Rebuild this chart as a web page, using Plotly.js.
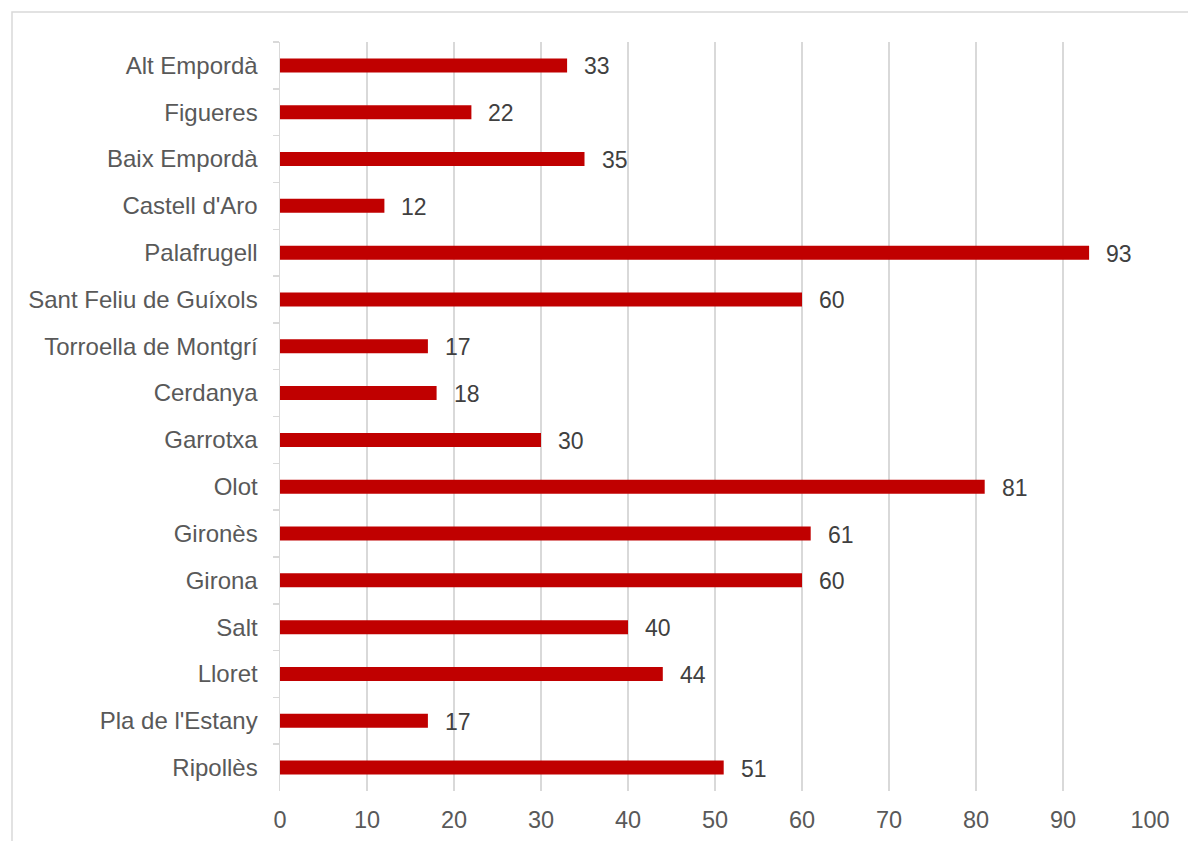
<!DOCTYPE html>
<html>
<head>
<meta charset="utf-8">
<script src="https://cdn.plot.ly/plotly-3.0.1.min.js"></script>
<style>
html,body{margin:0;padding:0;background:#fff;}
#chart{width:1188px;height:841px;}
</style>
</head>
<body>
<div id="chart"></div>
<script>
const categories = ["Alt Empordà","Figueres","Baix Empordà","Castell d'Aro","Palafrugell","Sant Feliu de Guíxols","Torroella de Montgrí","Cerdanya","Garrotxa","Olot","Gironès","Girona","Salt","Lloret","Pla de l'Estany","Ripollès"];
const values = [33,22,35,12,93,60,17,18,30,81,61,60,40,44,17,51];
const xTickValues = [0,10,20,30,40,50,60,70,80,90,100];

const FONT = "'Liberation Sans', Arial, sans-serif";

const trace = {
  type: "bar",
  orientation: "h",
  x: values,
  y: categories,
  width: 0.3,
  marker: {color: "#C00000"},
  hoverinfo: "x+y"
};

const annotations = values.map((v, i) => ({
  x: v, y: categories[i], xref: "x", yref: "y",
  text: String(v), showarrow: false,
  xanchor: "left", yanchor: "middle", xshift: 15, yshift: -1,
  font: {family: FONT, size: 23, color: "#404040"}
}));

const layout = {
  width: 1188, height: 841,
  margin: {l: 280, r: 38, t: 42, b: 50, pad: 0},
  paper_bgcolor: "#ffffff",
  plot_bgcolor: "#ffffff",
  showlegend: false,
  bargap: 0.7,
  xaxis: {
    range: [0, 100],
    tickvals: xTickValues,
    ticktext: xTickValues.map(String),
    showgrid: true,
    gridcolor: "#d9d9d9",
    gridwidth: 1.5,
    zeroline: false,
    showline: false,
    ticks: "outside",
    ticklen: 8,
    tickcolor: "rgba(0,0,0,0)",
    tickfont: {family: FONT, size: 23.5, color: "#595959"},
    fixedrange: true
  },
  yaxis: {
    autorange: "reversed",
    type: "category",
    showgrid: false,
    zeroline: false,
    showline: true,
    linecolor: "#d9d9d9",
    linewidth: 1.5,
    ticks: "outside",
    tickson: "boundaries",
    ticklen: 6,
    tickcolor: "#d9d9d9",
    tickwidth: 1.5,
    ticklabelstandoff: 16,
    tickfont: {family: FONT, size: 24, color: "#595959"},
    fixedrange: true
  },
  annotations: annotations,
  shapes: [{
    type: "rect", xref: "paper", yref: "paper",
    x0: (12 - 280) / 870, x1: 1.2,
    y0: -0.2, y1: (791 - 12) / 749,
    line: {color: "#d9d9d9", width: 1.5},
    fillcolor: "rgba(0,0,0,0)",
    layer: "below"
  }]
};

Plotly.newPlot("chart", [trace], layout, {displayModeBar: false, staticPlot: true});
</script>
</body>
</html>
